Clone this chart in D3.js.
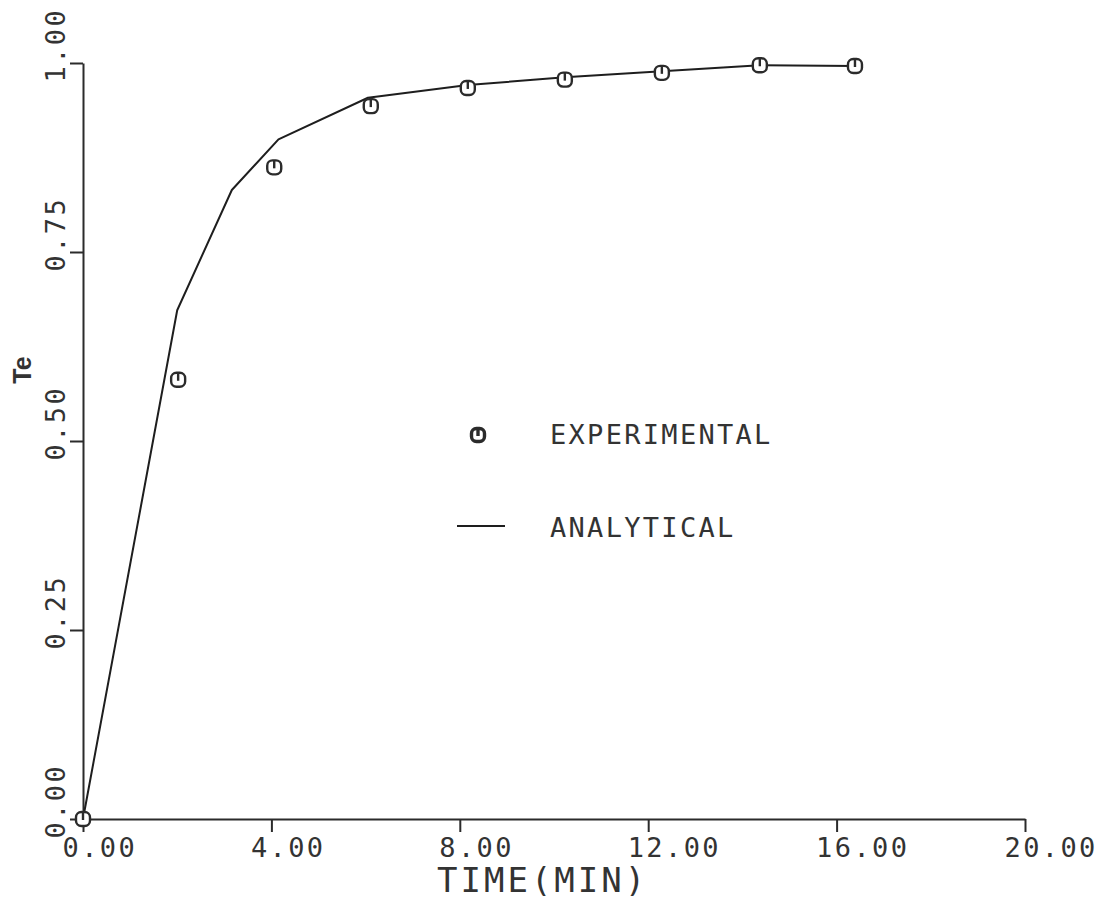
<!DOCTYPE html>
<html>
<head>
<meta charset="utf-8">
<script src="https://cdn.jsdelivr.net/npm/d3@7"></script>
<style>
  html, body { margin: 0; padding: 0; background: #fff; }
  svg { display: block; }
  .plot-font { font-family: "DejaVu Sans Mono", "Liberation Mono", monospace; fill: #333; }
</style>
</head>
<body>
<svg id="chart" width="1104" height="900"></svg>
<script>
// Experimental measurements of Te versus time (min)
const timeExp = [0, 2.02, 4.06, 6.11, 8.17, 10.23, 12.29, 14.37, 16.39];
const teExp   = [0, 0.581, 0.862, 0.943, 0.967, 0.978, 0.987, 0.997, 0.996];

// Analytical solution, evaluated at these times
const timeAna = [0, 2.0, 3.16, 4.15, 6.05, 8.17, 10.23, 12.29, 14.37, 16.39];
const teAna   = [0, 0.673, 0.832, 0.899, 0.954, 0.971, 0.981, 0.989, 0.997, 0.996];

// Axis ticks
const xTicks = [0, 4, 8, 12, 16, 20];
const yTicks = [0, 0.25, 0.5, 0.75, 1.0];

const legendLabels = ["EXPERIMENTAL", "ANALYTICAL"];
const xTitle = "TIME(MIN)";
const yTitle = "Te";

const svg = d3.select("#chart");
const ink = "#2b2b2b";

const x = d3.scaleLinear().domain([0, 20]).range([83, 1025]);
const y = d3.scaleLinear().domain([0, 1]).range([819, 63]);

// X axis
const xAxis = svg.append("g")
  .attr("transform", `translate(0,${y(0)})`)
  .call(d3.axisBottom(x).tickValues(xTicks).tickSize(13).tickSizeOuter(0)
    .tickFormat(d3.format(".2f")));
xAxis.select(".domain").attr("stroke", ink).attr("stroke-width", 2);
xAxis.selectAll(".tick line").attr("stroke", ink).attr("stroke-width", 2);
xAxis.selectAll(".tick text")
  .attr("class", "plot-font")
  .attr("font-size", 27)
  .attr("letter-spacing", 2.4)
  .attr("text-anchor", "start")
  .attr("x", -21)
  .attr("y", 38)
  .attr("dy", 0)
  .attr("fill", "#333");

// Y axis
const yAxis = svg.append("g")
  .attr("transform", `translate(${x(0)},0)`)
  .call(d3.axisLeft(y).tickValues(yTicks).tickSize(13).tickSizeOuter(0)
    .tickFormat(d3.format(".2f")));
yAxis.select(".domain").attr("stroke", ink).attr("stroke-width", 2);
yAxis.selectAll(".tick line").attr("stroke", ink).attr("stroke-width", 2);
yAxis.selectAll(".tick text")
  .attr("class", "plot-font")
  .attr("font-size", 27)
  .attr("letter-spacing", 2.4)
  .attr("text-anchor", "start")
  .attr("x", 0)
  .attr("y", 0)
  .attr("dy", 0)
  .attr("transform", "translate(-18,19) rotate(-90)")
  .attr("fill", "#333");

// Axis titles
svg.append("text")
  .attr("class", "plot-font")
  .attr("x", 437)
  .attr("y", 892)
  .attr("font-size", 34)
  .attr("letter-spacing", 3)
  .text(xTitle);

svg.append("text")
  .attr("transform", "translate(31,370) rotate(-90)")
  .attr("text-anchor", "middle")
  .attr("font-family", "'Liberation Sans', Arial, sans-serif")
  .attr("font-weight", "bold")
  .attr("font-size", 25)
  .attr("fill", "#333")
  .text(yTitle);

// Analytical curve
const anaData = timeAna.map((t, i) => ({ t, v: teAna[i] }));
const line = d3.line().x(d => x(d.t)).y(d => y(d.v));
svg.append("path")
  .datum(anaData)
  .attr("fill", "none")
  .attr("stroke", "#1e1e1e")
  .attr("stroke-width", 2)
  .attr("stroke-linejoin", "round")
  .attr("d", line);

// Experimental marker: rounded box with a short stem from the top
function marker(g, cx, cy, size, sw) {
  const h = size / 2;
  g.append("rect")
    .attr("x", cx - h).attr("y", cy - h)
    .attr("width", size).attr("height", size)
    .attr("rx", size * 0.38).attr("ry", size * 0.38)
    .attr("fill", "#fff")
    .attr("stroke", ink)
    .attr("stroke-width", sw);
  g.append("line")
    .attr("x1", cx).attr("x2", cx)
    .attr("y1", cy - h).attr("y2", cy + 1)
    .attr("stroke", ink)
    .attr("stroke-width", sw);
}

const expData = timeExp.map((t, i) => ({ t, v: teExp[i] }));
const markers = svg.append("g");
expData.forEach(d => marker(markers, x(d.t), y(d.v), 14, 2.4));

// Legend
const legend = svg.append("g");
marker(legend, 478, 435, 13, 3.4);
legend.append("line")
  .attr("x1", 457).attr("x2", 505)
  .attr("y1", 526).attr("y2", 526)
  .attr("stroke", "#1e1e1e").attr("stroke-width", 2.2);
legend.selectAll("text.lbl")
  .data(legendLabels)
  .join("text")
  .attr("class", "plot-font lbl")
  .attr("x", 550)
  .attr("y", (d, i) => 444 + i * 93)
  .attr("font-size", 27)
  .attr("letter-spacing", 2.3)
  .text(d => d);
</script>
</body>
</html>
